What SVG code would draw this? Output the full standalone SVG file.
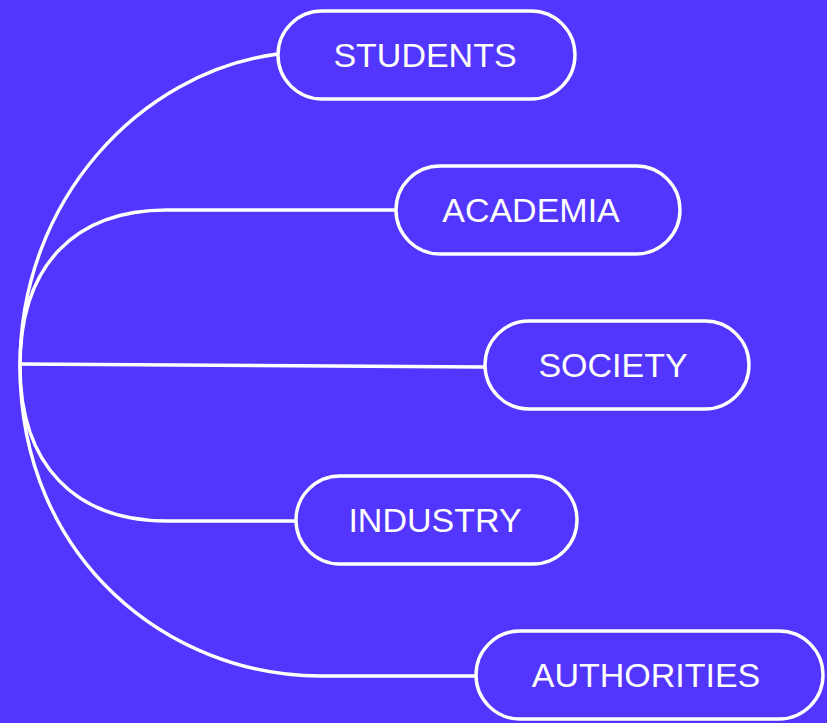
<svg xmlns="http://www.w3.org/2000/svg" width="827" height="723" viewBox="0 0 827 723">
<style>
.node rect{fill:#5236FD;stroke:#FFFFFF;stroke-width:3.4}
.node text{fill:#FFFFFF;font-family:"Liberation Sans",Arial,sans-serif;font-size:34px;text-anchor:middle}
.conn path{fill:none;stroke:#FFFFFF;stroke-width:3.4}
</style>
<rect width="827" height="723" fill="#5236FD"/>
<g id="connectors" class="conn">
<path d="M20,366 C20,200 140,72 278,54"/>
<path d="M20,366 C20,265 75,210 167,210 L396,210"/>
<path d="M20,364 L485,367"/>
<path d="M20,366 C20,465 75,521 167,521 L296,521"/>
<path d="M20,366 C20,560 170,676 320,676 L476,676"/>
</g>
<g id="students" class="node"><rect x="278" y="11" width="297" height="88" rx="44"/><text x="425" y="67">STUDENTS</text></g>
<g id="academia" class="node"><rect x="396" y="166" width="284" height="88" rx="44"/><text x="531" y="222">ACADEMIA</text></g>
<g id="society" class="node"><rect x="485" y="321" width="264" height="88" rx="44"/><text x="613" y="377">SOCIETY</text></g>
<g id="industry" class="node"><rect x="296" y="476" width="281" height="88" rx="44"/><text x="435" y="532">INDUSTRY</text></g>
<g id="authorities" class="node"><rect x="476" y="631" width="347" height="88" rx="44"/><text x="646" y="687">AUTHORITIES</text></g>
</svg>
